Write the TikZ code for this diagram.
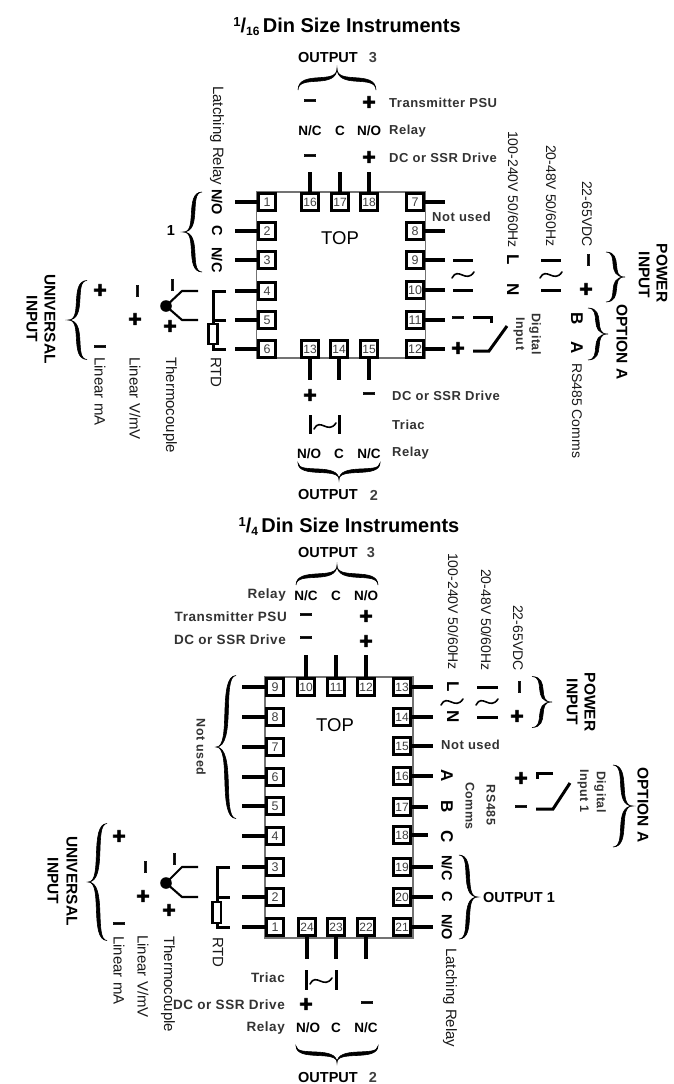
\documentclass[tikz,border=0pt]{standalone}
\usepackage{fontspec}
\setmainfont{Liberation Sans}
\newfontfamily\lsfam[LetterSpace=4]{Liberation Sans}
\newfontfamily\signfam[FakeBold=2.5]{Liberation Sans}
\newcommand{\fsz}[1]{\fontsize{#1}{#1}\selectfont}
% curly brace: centre of the chord, chord length, depth, rotation (0 = tip up)
\newcommand{\crly}[5]{%
  \begin{scope}[shift={(#1,#2)},rotate=#5]
    \pgfmathsetmacro{\hL}{#3/2}\pgfmathsetmacro{\dA}{#4}
    \fill[line width=.6pt,draw=black] (-\hL,0)
      .. controls ({-\hL+.5},{-.95*\dA}) and (1,{-.2*\dA}) .. (0,-\dA)
      .. controls (-1,{-.2*\dA}) and ({\hL-.5},{-.95*\dA}) .. (\hL,0)
      .. controls ({\hL-.5},{-.95*\dA+4.6}) and (0,{-.2*\dA+4.6}) .. (0,-\dA)
      .. controls (0,{-.2*\dA+4.6}) and ({-\hL+.5},{-.95*\dA+4.6}) .. (-\hL,0) -- cycle;
  \end{scope}}
\newcommand{\tld}[3]{%
  \begin{scope}[shift={(#1,#2)},rotate=#3]
    \draw[line width=1.6pt,line cap=round] (-11,3) .. controls (-5,-9) and (3,9) .. (11,-3);
  \end{scope}}
\tikzset{
  x=1pt,y=-1pt,
  term/.style={draw=black,fill=white,line width=2.8pt,minimum size=17.2pt,inner sep=0pt,
    text=black!75,font=\fsz{12.5}},
  two/.style={term,font=\fsz{12}},
  pin/.style={line width=3.4pt},
  wire/.style={line width=3pt},
  thin wire/.style={line width=2.1pt},
  chassis/.style={draw=black!55,line width=1.6pt,inner sep=0pt},
  vtxt/.style={rotate=-90,anchor=west,inner sep=0pt,font=\fsz{14},text=black!90},
  vtxtb/.style={vtxt,font=\fsz{15}},
  vbold/.style={rotate=-90,inner sep=0pt,font=\fsz{15.5}\bfseries},
  vlabel/.style={rotate=-90,inner sep=0pt,font=\fsz{14.5}\bfseries},
  vlet/.style={rotate=-90,inner sep=0pt,font=\fsz{17}\bfseries},
  hlab/.style={anchor=west,inner sep=0pt,font=\fsz{13}\bfseries\lsfam,text=black!80},
  hlabr/.style={hlab,anchor=east,font=\fsz{13.5}\bfseries\lsfam},
  vlab/.style={rotate=-90,inner sep=0pt,font=\fsz{12.5}\bfseries\lsfam,text=black!80},
  ct/.style={inner sep=0pt,font=\fsz{13.5}\bfseries},
  sign/.style={inner sep=0pt,font=\fsz{23}\signfam\bfseries},
  vsign/.style={sign,rotate=-90},
  big/.style={inner sep=0pt,font=\fsz{14.5}\bfseries},
  toplab/.style={inner sep=0pt,font=\fsz{18.5}},
  titl/.style={inner sep=0pt,font=\fsz{20}\bfseries},
}
\begin{document}
\begin{tikzpicture}
\useasboundingbox (0,0) rectangle (674,1084);
\fill[white] (0,0) rectangle (674,1084);

%%%%%%%%%%%%%%%% 1/16 DIN %%%%%%%%%%%%%%%%
\node[titl] (title1) at (347,27) {{\fsz{13}\raisebox{6pt}{1}}/{\fsz{12}\raisebox{-3pt}{16}}\,Din Size Instruments};
\node[chassis,minimum width=169pt,minimum height=166pt] (bodyA) at (341,275) {};
\foreach \n/\y in {1/202,2/231,3/260,4/291,5/320,6/349}{
  \node[term] (a\n) at (267,\y) {\n};
  \coordinate (ae\n) at (235,\y);
  \draw[pin] (a\n.west) -- (ae\n);
}
\foreach \n/\y in {7/202,8/231,9/260,10/290,11/320,12/349}{
  \node[term] (a\n) at (415,\y) {\n};
  \coordinate (ae\n) at (445,\y);
  \draw[pin] (a\n.east) -- (ae\n);
}
\foreach \n/\x in {16/310,17/340,18/369}{
  \node[two] (a\n) at (\x,202) {\n};
  \coordinate (ae\n) at (\x,172);
  \draw[pin] (a\n.north) -- (ae\n);
}
\foreach \n/\x in {13/310,14/339,15/369}{
  \node[two] (a\n) at (\x,349) {\n};
  \coordinate (ae\n) at (\x,380);
  \draw[pin] (a\n.south) -- (ae\n);
}
\node[toplab] (topA) at (340,238) {TOP};

% output 3
\node[big,anchor=west] (o3a) at (298,58) {OUTPUT};
\node[big,text=black!75] (o3n) at (373,58) {3};
\crly{337}{90}{78}{22}{0}
\node[sign] (a3m) at (310,103) {–};
\node[sign] (a3p) at (369,103) {+};
\node[hlab] (a3t) at (389,103) {Transmitter PSU};
\node[ct] (a3nc) at (310,131) {N/C};
\node[ct] (a3c) at (340,131) {C};
\node[ct] (a3no) at (369,131) {N/O};
\node[hlab] (a3r) at (389,131) {Relay};
\node[sign] (a3dm) at (310,158) {–};
\node[sign] (a3dp) at (369,158) {+};
\node[hlab] (a3d) at (389,158) {DC or SSR Drive};

% output 1
\node[vtxtb] (a1l) at (217,86) {Latching Relay};
\node[vlabel] (a1no) at (217,202) {N/O};
\node[vlabel] (a1c) at (217,231) {C};
\node[vlabel] (a1nc) at (217,260) {N/C};
\crly{202}{232}{80}{19}{90}
\node[big] (a1n) at (171,231) {1};

% universal input
\draw[wire] (226,291) -- (213,291) -- (213,324);
\draw[wire] (226,320) -- (213,320);
\draw[wire] (213,344) -- (213,349) -- (226,349);
\draw[line width=2.2pt,fill=white] (208.5,324) rectangle (217.5,344);
\node[vtxtb] (artd) at (216,357) {RTD};
\fill (166,306) circle (5.8pt);
\draw[thin wire] (198,291) -- (182,291) -- (166,306) -- (182,320) -- (198,320);
\node[vsign] (atm) at (170,285) {–};
\node[sign] (atp) at (170,327) {+};
\node[vtxtb] (att) at (170,357) {Thermocouple};
\node[vsign] (avm) at (135,291) {–};
\node[sign] (avp) at (135,320) {+};
\node[vtxtb] (avt) at (135,357) {Linear V/mV};
\node[sign] (amp) at (100,291) {+};
\node[sign] (amm) at (100,349) {–};
\node[vtxtb] (amt) at (100,357) {Linear mA};
\crly{87}{320}{79}{19}{90}
\node[vbold] (au1) at (50,319) {UNIVERSAL};
\node[vbold] (au2) at (32,319) {INPUT};

% output 2
\node[sign] (a2p) at (310,396) {+};
\node[sign] (a2m) at (369,396) {–};
\node[hlab] (a2d) at (392,396) {DC or SSR Drive};
\draw[wire] (310,415) -- (310,434);
\draw[wire] (339,415) -- (339,434);
\tld{325}{426}{0}
\node[hlab] (a2t) at (392,425) {Triac};
\node[ct] (a2no) at (309,454) {N/O};
\node[ct] (a2c) at (339,454) {C};
\node[ct] (a2nc) at (369,454) {N/C};
\node[hlab] (a2r) at (392,453) {Relay};
\crly{339}{463}{82}{17}{180}
\node[big,anchor=west] (o2a) at (298,495) {OUTPUT};
\node[big,text=black!75] (o2n) at (374,495) {2};

% right hand side
\node[hlab] (anu) at (432,217) {Not used};
\draw[wire] (453,260) -- (473,260);
\draw[wire] (453,290) -- (473,290);
\tld{463}{275}{0}
\node[vlet] (aL) at (513,260) {L};
\node[vlet] (aN) at (513,290) {N};
\draw[wire] (541,260) -- (561,260);
\draw[wire] (541,290) -- (561,290);
\tld{551}{275}{0}
\node[vsign] (apm) at (586,260) {–};
\node[sign] (app) at (586,290) {+};
\node[vtxt] (av1) at (513,131) {100-240V 50/60Hz};
\node[vtxt] (av2) at (551,145) {20-48V 50/60Hz};
\node[vtxt] (av3) at (587,181) {22-65VDC};
\crly{606}{277}{50}{19}{-90}
\node[vbold] (ap1) at (662,273) {POWER};
\node[vbold] (ap2) at (644,275) {INPUT};
\node[sign] (asm) at (458,320) {–};
\node[sign] (asp) at (458,349) {+};
\draw[line width=3pt] (473,317) -- (491,317) -- (491,323);
\draw[line width=3pt] (473,351) -- (489,351) -- (507,326);
\node[vlab] (ad1) at (535,334) {Digital};
\node[vlab] (ad2) at (519,334) {Input};
\node[vlet] (aB) at (577,319) {B};
\node[vlet] (aA) at (577,348) {A};
\node[vtxt] (ars) at (577,363) {RS485 Comms};
\crly{588}{334}{52}{20}{-90}
\node[vbold] (aop) at (622,342) {OPTION A};

%%%%%%%%%%%%%%%% 1/4 DIN %%%%%%%%%%%%%%%%
\node[titl] (title2) at (349,527) {{\fsz{13}\raisebox{6pt}{1}}/{\fsz{12}\raisebox{-3pt}{4}}\,Din Size Instruments};
\node[chassis,minimum width=148pt,minimum height=261pt] (bodyB) at (339,807.5) {};
\foreach \n/\y in {9/687,8/717,7/747,6/777,5/806,4/836,3/867,2/897,1/927}{
  \node[term] (b\n) at (275,\y) {\n};
  \coordinate (be\n) at (242,\y);
  \draw[pin] (b\n.west) -- (be\n);
}
\foreach \n/\y/\e in {13/687/433,14/717/433,15/746/433,16/776/433,17/807/428,18/835/428,19/867/433,20/897/433,21/927/433}{
  \node[two] (b\n) at (402,\y) {\n};
  \coordinate (be\n) at (\e,\y);
  \draw[pin] (b\n.east) -- (be\n);
}
\foreach \n/\x in {10/306,11/336,12/366}{
  \node[two] (b\n) at (\x,687) {\n};
  \coordinate (be\n) at (\x,655);
  \draw[pin] (b\n.north) -- (be\n);
}
\foreach \n/\x in {24/307,23/336,22/366}{
  \node[two] (b\n) at (\x,927) {\n};
  \coordinate (be\n) at (\x,959);
  \draw[pin] (b\n.south) -- (be\n);
}
\node[toplab] (topB) at (335,725) {TOP};

% output 3
\node[big,anchor=west] (p3a) at (298,553) {OUTPUT};
\node[big,text=black!75] (p3n) at (371,553) {3};
\crly{337}{585}{82}{20}{0}
\node[hlabr] (b3r) at (286,595) {Relay};
\node[ct] (b3nc) at (306,596) {N/C};
\node[ct] (b3c) at (336,596) {C};
\node[ct] (b3no) at (366,596) {N/O};
\node[hlabr] (b3t) at (287,617) {Transmitter PSU};
\node[sign] (b3m) at (306,617) {–};
\node[sign] (b3p) at (366,617) {+};
\node[hlabr] (b3d) at (286,640) {DC or SSR Drive};
\node[sign] (b3dm) at (306,640) {–};
\node[sign] (b3dp) at (366,642) {+};

% not used
\crly{236}{747}{143}{20}{90}
\node[vlab] (bnu) at (201,747) {Not used};

% universal input
\draw[wire] (230,867) -- (217,867) -- (217,902);
\draw[wire] (217,897) -- (230,897);
\draw[wire] (217,923) -- (217,927) -- (230,927);
\draw[line width=2.2pt,fill=white] (212.5,902) rectangle (221,923);
\node[vtxtb] (brtd) at (218,937) {RTD};
\fill (166,883) circle (5.8pt);
\draw[thin wire] (198,867) -- (182,867) -- (166,883) -- (182,897) -- (198,897);
\node[vsign] (btm) at (172,859) {–};
\node[sign] (btp) at (169,911) {+};
\node[vtxtb] (btt) at (168,936) {Thermocouple};
\node[vsign] (bvm) at (143,867) {–};
\node[sign] (bvp) at (143,897) {+};
\node[vtxtb] (bvt) at (143,935) {Linear V/mV};
\node[sign] (bmp) at (119,837) {+};
\node[sign] (bmm) at (119,926) {–};
\node[vtxtb] (bmt) at (119,936) {Linear mA};
\crly{107}{882}{117}{19}{90}
\node[vbold] (bu1) at (72,881) {UNIVERSAL};
\node[vbold] (bu2) at (53,881) {INPUT};

% output 2
\draw[wire] (306,970) -- (306,990);
\draw[wire] (336,970) -- (336,990);
\tld{321}{981}{0}
\node[hlabr] (b2t) at (285,978) {Triac};
\node[hlabr] (b2d) at (285,1005) {DC or SSR Drive};
\node[sign] (b2p) at (306,1005) {+};
\node[sign] (b2m) at (367,1005) {–};
\node[hlabr] (b2r) at (285,1028) {Relay};
\node[ct] (b2no) at (308,1028) {N/O};
\node[ct] (b2c) at (336,1028) {C};
\node[ct] (b2nc) at (366,1028) {N/C};
\crly{337}{1046}{82}{17}{180}
\node[big,anchor=west] (p2a) at (298,1077) {OUTPUT};
\node[big,text=black!75] (p2n) at (373,1077) {2};

% power
\node[vtxt] (bv1) at (453,553) {100-240V 50/60Hz};
\node[vtxt] (bv2) at (486,569) {20-48V 50/60Hz};
\node[vtxt] (bv3) at (518,605) {22-65VDC};
\node[vlet] (bL) at (453,687) {L};
\node[vlet] (bN) at (453,717) {N};
\tld{452}{702}{0}
\draw[wire] (477,687) -- (498,687);
\draw[wire] (477,717) -- (498,717);
\tld{487}{702}{0}
\node[vsign] (bpm) at (517,687) {–};
\node[sign] (bpp) at (517,717) {+};
\crly{532}{702}{51}{20}{-90}
\node[vbold] (bp1) at (590,702) {POWER};
\node[vbold] (bp2) at (572,702) {INPUT};
\node[hlab] (bnu2) at (441,745) {Not used};

% option a
\node[vlet] (bA) at (447,776) {A};
\node[vlet] (bB) at (447,807) {B};
\node[vlet] (bC) at (447,837) {C};
\node[vlab] (brs1) at (491,805) {RS485};
\node[vlab] (brs2) at (470,806) {Comms};
\node[sign] (bsp) at (521,779) {+};
\node[sign] (bsm) at (521,809) {–};
\draw[line width=3pt] (553,773) -- (537,773) -- (537,779);
\draw[line width=3pt] (536,809) -- (553,809) -- (570,783);
\node[vlab] (bd1) at (600,792) {Digital};
\node[vlab] (bd2) at (583,791) {Input 1};
\crly{613}{806}{82}{20}{-90}
\node[vbold] (bop) at (643,805) {OPTION A};

% output 1
\node[vlabel] (b1nc) at (447,868) {N/C};
\node[vlabel] (b1c) at (447,897) {C};
\node[vlabel] (b1no) at (447,927) {N/O};
\node[vtxtb] (b1l) at (450,948) {Latching Relay};
\crly{459}{897}{84}{19}{-90}
\node[big,anchor=west] (b1o) at (483,897) {OUTPUT 1};
\end{tikzpicture}
\end{document}
